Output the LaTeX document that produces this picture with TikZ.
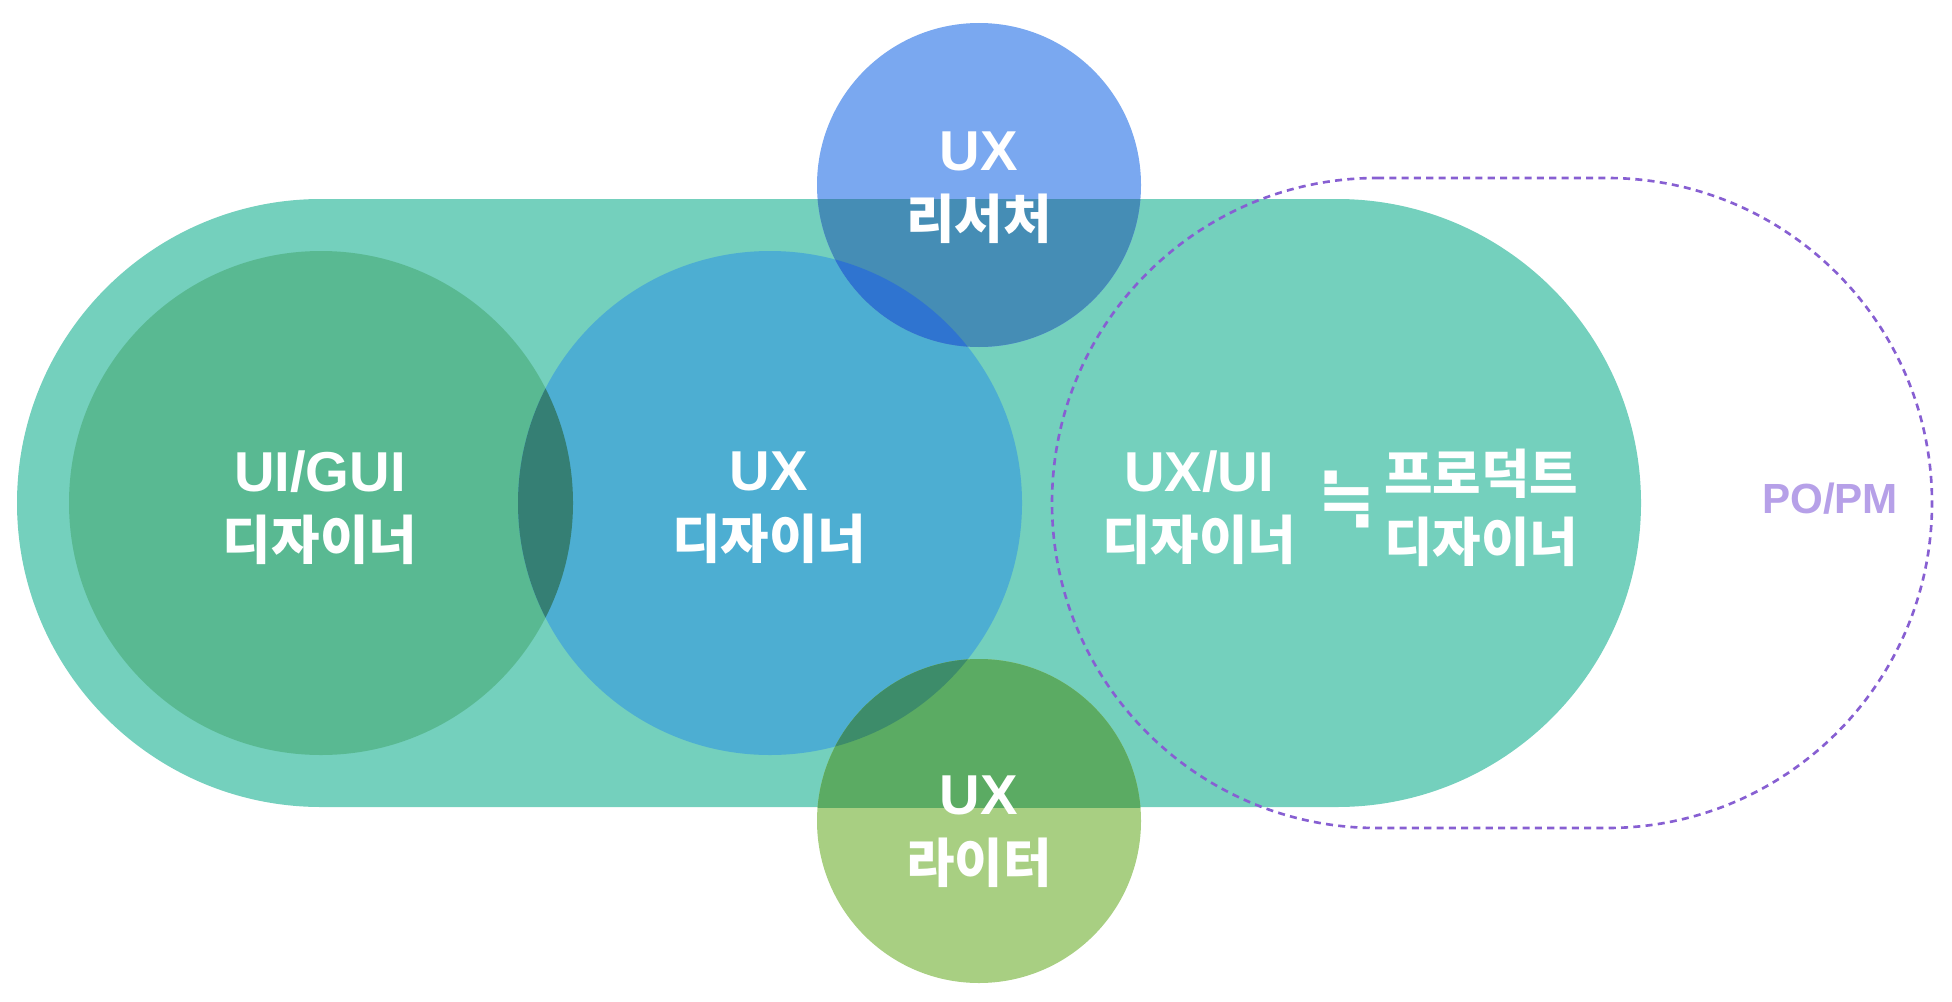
\documentclass[tikz,border=0pt]{standalone}
\usepackage{fontspec}
\setmainfont{Liberation Sans}
\newfontfamily\kr{Noto Sans CJK KR}
\newfontfamily\symb{DejaVu Sans}
\newcommand\krl{\kr\fontsize{15}{19.4}\selectfont}
\usepackage{tikz}
\usetikzlibrary{calc, positioning}
\usepackage{xcolor}
\definecolor{pillC}{RGB}{116, 208, 189}
\definecolor{guiC}{RGB}{89, 185, 146}
\definecolor{uxdC}{RGB}{77, 174, 210}
\definecolor{guiUxd}{RGB}{53, 127, 116}
\definecolor{resC}{RGB}{122, 168, 240}
\definecolor{resPill}{RGB}{69, 141, 181}
\definecolor{resUxd}{RGB}{47, 116, 208}
\definecolor{wriC}{RGB}{168, 207, 130}
\definecolor{wriPill}{RGB}{91, 171, 99}
\definecolor{wriUxd}{RGB}{61, 140, 106}
\definecolor{poLine}{RGB}{135, 95, 210}
\definecolor{poText}{RGB}{182, 160, 232}

\begin{document}
\begin{tikzpicture}[font=\bfseries\fontsize{16}{19.4}\selectfont,
    lbl/.style={text=white, align=center, inner sep=0pt}]
  \useasboundingbox (0,0) rectangle (19.52,-10.02);
  \def\rp{3.04}
  \def\rb{2.52}
  \def\rs{1.62}
  \coordinate (cGui) at (3.21,-5.03);
  \coordinate (cUxd) at (7.70,-5.03);
  \coordinate (cRes) at (9.79,-1.85);
  \coordinate (cWri) at (9.79,-8.21);

  % Track behind everything
  \fill[pillC] (3.21,-1.99) -- (13.37,-1.99) arc (90:-90:\rp)
    -- (3.21,-8.07) arc (270:90:\rp) -- cycle;

  \fill[guiC] (cGui) circle (\rb);
  \fill[uxdC] (cUxd) circle (\rb);
  \begin{scope}
    \clip (cGui) circle (\rb);
    \fill[guiUxd] (cUxd) circle (\rb);
  \end{scope}

  % Researcher on top
  \fill[resC] (cRes) circle (\rs);
  \begin{scope}
    \clip (6,-1.99) rectangle (14,-8.07);
    \fill[resPill] (cRes) circle (\rs);
  \end{scope}
  \begin{scope}
    \clip (cUxd) circle (\rb);
    \fill[resUxd] (cRes) circle (\rs);
  \end{scope}

  % Writer at the bottom
  \fill[wriC] (cWri) circle (\rs);
  \begin{scope}
    \clip (6,-1.99) rectangle (14,-8.07);
    \fill[wriPill] (cWri) circle (\rs);
  \end{scope}
  \begin{scope}
    \clip (cUxd) circle (\rb);
    \fill[wriUxd] (cWri) circle (\rs);
  \end{scope}

  % PO/PM outline
  \draw[poLine, line width=0.75pt, dash pattern=on 2pt off 1.5pt]
    (13.77,-1.78) -- (16.07,-1.78) arc (90:-90:3.25)
    -- (13.77,-8.28) arc (270:90:3.25) -- cycle;

  \node[lbl] (tGui) at (3.20,-5.08) {UI/GUI\\\krl 디자이너};
  \node[lbl] (tUxd) at (7.69,-5.08) {UX\\\krl 디자이너};
  \node[lbl] (tRes) at (9.79,-1.88) {UX\\\krl 리서처};
  \node[lbl] (tWri) at (9.79,-8.32) {UX\\\krl 라이터};
  \node[lbl] (tUxui) at (11.99,-5.08) {UX/UI\\\krl 디자이너};
  \node[lbl, font=\symb\bfseries\fontsize{20}{20}\selectfont] (tApprox) at (13.47,-4.99) {≒};
  \node[lbl] (tProd) at (14.81,-5.08) {\krl 프로덕트\\\krl 디자이너};
  \node[font=\bfseries\fontsize{12}{14}\selectfont, text=poText, inner sep=0pt]
    (tPo) at (18.30,-4.99) {PO/PM};
\end{tikzpicture}
\end{document}
